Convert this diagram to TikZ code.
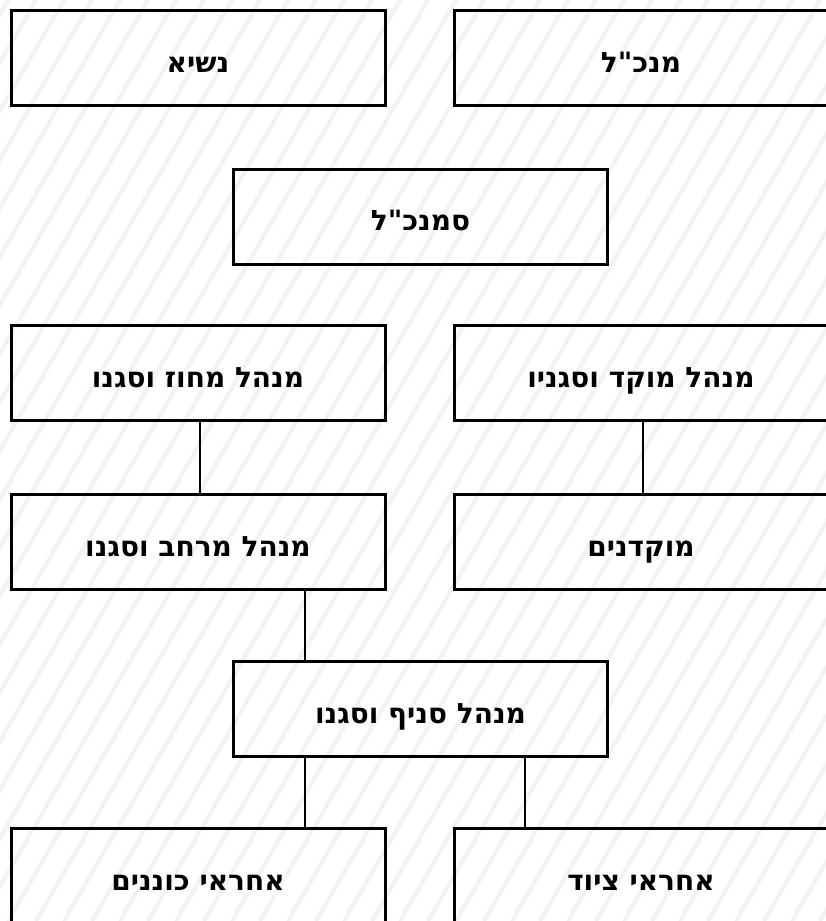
\documentclass[tikz,border=0pt]{standalone}
\usepackage{fontspec}
\newfontfamily\hebfont[Script=Hebrew]{DejaVu Sans}
\TeXXeTstate=1
\newcommand{\heb}[1]{\hebfont\bfseries\beginR #1\endR}
\begin{document}
\begin{tikzpicture}[x=1pt,y=-1pt,
  orgbox/.style={draw=black, line width=3pt, fill=none, minimum width=374pt, minimum height=95pt, inner sep=0pt, text height=30pt, text depth=2pt, font=\fontsize{28}{32}\selectfont},
  link/.style={draw=black, line width=2pt},
  stripe/.style={draw=black!3, line width=5pt},
  stripecore/.style={draw=black!5.5, line width=2pt}]
\path[use as bounding box] (0,0) rectangle (826,921);
\fill[white] (0,0) rectangle (826,921);
\begin{scope}
\clip (0,0) rectangle (826,921);
\foreach \x in {-580,-552,...,840} {
  \draw[stripe] (\x,921) -- (\x+532,0);
  \draw[stripecore] (\x,921) -- (\x+532,0);
}
\node[orgbox] (nasi) at (198,58) {\heb{נשיא}};
\node[orgbox] (mankal) at (641,58) {\heb{מנכ"ל}};
\node[orgbox] (samankal) at (420.5,216.5) {\heb{סמנכ"ל}};
\node[orgbox] (mahoz) at (198,373) {\heb{מנהל מחוז וסגנו}};
\node[orgbox] (moked) at (641,373) {\heb{מנהל מוקד וסגניו}};
\node[orgbox] (merhav) at (198,542) {\heb{מנהל מרחב וסגנו}};
\node[orgbox] (mokdanim) at (641,542) {\heb{מוקדנים}};
\node[orgbox] (snif) at (420.5,709) {\heb{מנהל סניף וסגנו}};
\node[orgbox] (konanim) at (198,876) {\heb{אחראי כוננים}};
\node[orgbox] (tziyud) at (641,876) {\heb{אחראי ציוד}};
\coordinate (snifA) at ([xshift=-115.5pt]snif.north);
\coordinate (snifB) at ([xshift=-115.5pt]snif.south);
\coordinate (snifC) at ([xshift=104.5pt]snif.south);
\draw[link] ([xshift=2pt]mahoz.south) -- ([xshift=2pt]merhav.north);
\draw[link] ([xshift=2pt]moked.south) -- ([xshift=2pt]mokdanim.north);
\draw[link] (snifA) -- (snifA |- merhav.south);
\draw[link] (snifB) -- (snifB |- konanim.north);
\draw[link] (snifC) -- (snifC |- tziyud.north);
\end{scope}
\end{tikzpicture}
\end{document}
